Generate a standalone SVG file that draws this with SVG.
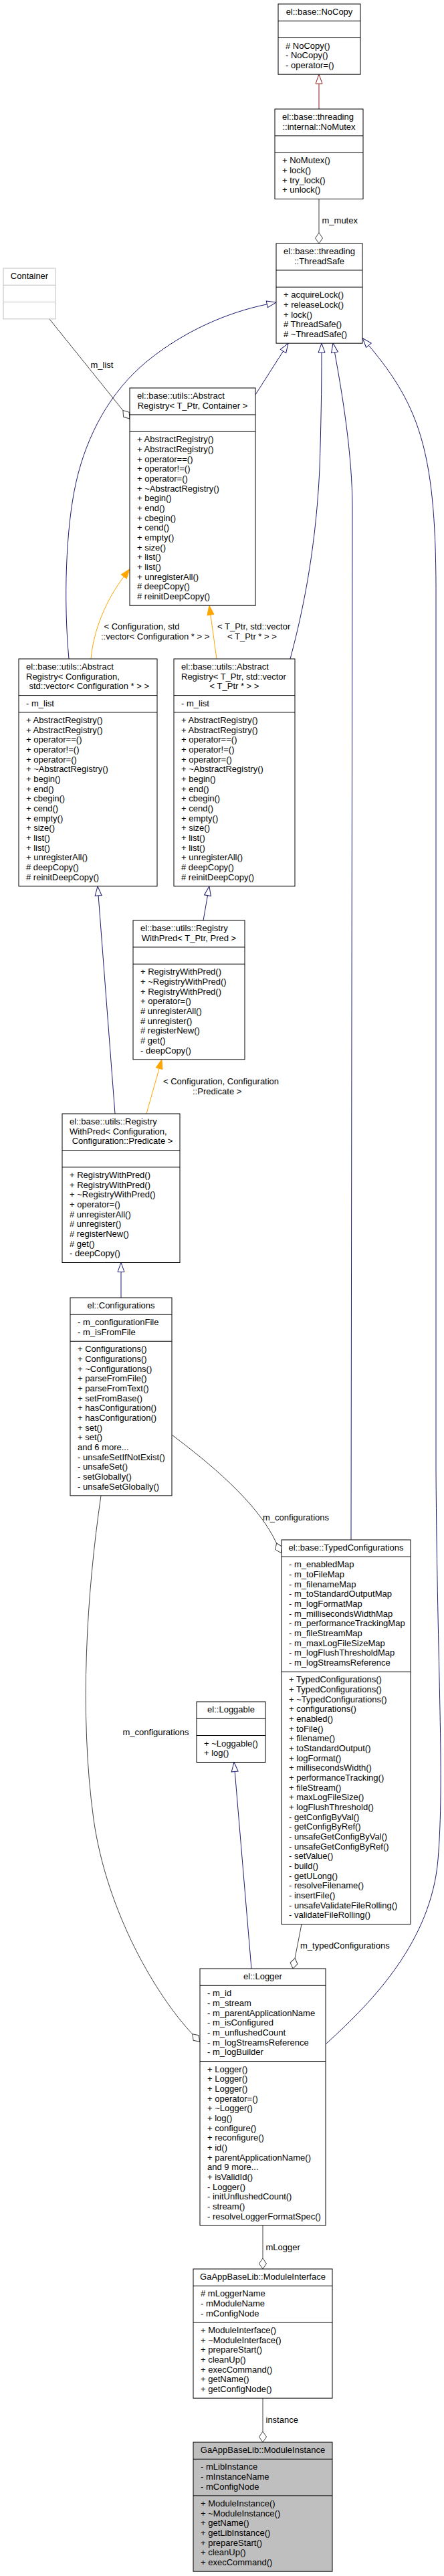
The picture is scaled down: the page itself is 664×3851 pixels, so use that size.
<svg xmlns="http://www.w3.org/2000/svg" width="664" height="3851" viewBox="0 0 664 3851">
<style>
.b{fill:#fff;stroke:#000;stroke-width:1}
.gr{fill:#bfbfbf;stroke:#000;stroke-width:1}
.gb{fill:#fff;stroke:#bfbfbf;stroke-width:1}
.d{stroke:#000;stroke-width:1;fill:none}
.dg{stroke:#bfbfbf;stroke-width:1;fill:none}
text{font-family:"Liberation Sans",Arial,Helvetica,sans-serif;font-size:13px;fill:#000}
.m{text-anchor:middle}
.e{fill:none;stroke-width:1}
.inh{stroke:#191970;marker-end:url(#ah)}
.tpl{stroke:#ffa500;marker-end:url(#ao)}
.use{stroke:#404040;marker-end:url(#dm)}
.prv{stroke:#8b1a1a;marker-end:url(#ar)}
</style>
<defs>
<marker id="ah" markerUnits="userSpaceOnUse" markerWidth="16" markerHeight="12" refX="0" refY="5" orient="auto" overflow="visible"><path d="M0,0L14,5L0,10Z" fill="#fff" stroke="#191970"/></marker>
<marker id="ar" markerUnits="userSpaceOnUse" markerWidth="16" markerHeight="12" refX="0" refY="5" orient="auto" overflow="visible"><path d="M0,0L14,5L0,10Z" fill="#fff" stroke="#8b1a1a"/></marker>
<marker id="ao" markerUnits="userSpaceOnUse" markerWidth="16" markerHeight="12" refX="0" refY="5" orient="auto" overflow="visible"><path d="M0,0L14,5L0,10Z" fill="#ffa500" stroke="#ffa500"/></marker>
<marker id="dm" markerUnits="userSpaceOnUse" markerWidth="18" markerHeight="12" refX="0" refY="5.5" orient="auto" overflow="visible"><path d="M0,5.5L8,0L16,5.5L8,11Z" fill="#fff" stroke="#404040"/></marker>
</defs>
<rect x="0" y="0" width="664" height="3851" fill="#fff"/>

<g id="connectors">
<path class="e prv" d="M477,163L477,125.15"/>
<path class="e use" d="M477,297.49L477,348"/>
<path class="e use" d="M74,477L183.9,613.6"/>
<path class="e inh" d="M103,985C95,900 98,790 114,720C130,650 165,585 220,540C275,495 340,467 399.3,454.9"/>
<path class="e inh" d="M382,590L423.5,525"/>
<path class="e inh" d="M434,985C450,925 472,830 478,700C480,640 481,580 481,527.2"/>
<path class="e inh" d="M525,2302L527,760C527,680 512,590 500.5,526.8"/>
<path class="e inh" d="M488,3055C560,2990 645,2900 655,2780C665,2660 654,2500 652,2200L652,900C653,680 630,610 551.4,516.3"/>
<path class="e tpl" d="M136,985C140,940 160,895 185.3,862"/>
<path class="e tpl" d="M324,985L314.9,919.1"/>
<path class="e inh" d="M172,1665L147.1,1338.9"/>
<path class="e inh" d="M304,1376L310.5,1338.7"/>
<path class="e tpl" d="M219,1665L238.1,1597.3"/>
<path class="e inh" d="M181,1940L181,1901.5"/>
<path class="e use" d="M257,2145C310,2185 385,2245 413.5,2307"/>
<path class="e use" d="M151,2235.9C130,2380 118,2560 140,2720C160,2860 235,2985 287.7,3040.7"/>
<path class="e use" d="M451,2876.6L441.1,2927.3"/>
<path class="e inh" d="M376,2943L351.2,2648.4"/>
<path class="e use" d="M393,3326.9L393,3376"/>
<path class="e use" d="M393,3585.2L393,3635"/>
<text x="481.5" y="334">m_mutex</text>
<text x="135.5" y="550">m_list</text>
<text x="155.5" y="941">&lt; Configuration, std</text>
<text x="151" y="956">::vector&lt; Configuration * &gt; &gt;</text>
<text x="325" y="941">&lt; T_Ptr, std::vector</text>
<text x="340" y="956">&lt; T_Ptr * &gt; &gt;</text>
<text x="244" y="1621">&lt; Configuration, Configuration</text>
<text x="288" y="1636">::Predicate &gt;</text>
<text x="393" y="2272.5">m_configurations</text>
<text x="183.5" y="2593.5">m_configurations</text>
<text x="449" y="2912.5">m_typedConfigurations</text>
<text x="397.5" y="3363.5">mLogger</text>
<text x="397.5" y="3621.5">instance</text>
</g>

<g id="nocopy">
<rect class="b" x="416" y="6" width="123" height="105.15"/>
<path class="d" d="M416,31.27H539M416,56.54H539"/>
<text class="m" x="477.5" y="22">el::base::NoCopy</text>
<text x="427" y="72.54"><tspan x="427">#  NoCopy()</tspan><tspan x="427" dy="14.67">- NoCopy()</tspan><tspan x="427" dy="14.67">- operator=()</tspan></text>
</g>

<g id="nomutex">
<rect class="b" x="411" y="163" width="132" height="134.49"/>
<path class="d" d="M411,202.94H543M411,228.21H543"/>
<text x="422" y="179">el::base::threading</text>
<text class="m" x="477" y="193.67">::internal::NoMutex</text>
<text x="422" y="244.21"><tspan x="422">+ NoMutex()</tspan><tspan x="422" dy="14.67">+ lock()</tspan><tspan x="422" dy="14.67">+ try_lock()</tspan><tspan x="422" dy="14.67">+ unlock()</tspan></text>
</g>

<g id="threadsafe">
<rect class="b" x="413" y="364" width="129" height="149.16"/>
<path class="d" d="M413,403.94H542M413,429.21H542"/>
<text x="424" y="380">el::base::threading</text>
<text class="m" x="477.5" y="394.67">::ThreadSafe</text>
<text x="424" y="445.21"><tspan x="424">+ acquireLock()</tspan><tspan x="424" dy="14.67">+ releaseLock()</tspan><tspan x="424" dy="14.67">+ lock()</tspan><tspan x="424" dy="14.67"># ThreadSafe()</tspan><tspan x="424" dy="14.67"># ~ThreadSafe()</tspan></text>
</g>

<g id="container">
<rect class="gb" x="5" y="401" width="78" height="75.81"/>
<path class="dg" d="M5,426.27H83M5,451.54H83"/>
<text class="m" x="44" y="417">Container</text>
</g>

<g id="abstractregistry_container">
<rect class="b" x="194" y="580" width="188" height="325.21"/>
<path class="d" d="M194,619.94H382M194,645.21H382"/>
<text x="205" y="596">el::base::utils::Abstract</text>
<text class="m" x="288" y="610.67">Registry&lt; T_Ptr, Container &gt;</text>
<text x="205" y="661.21"><tspan x="205">+ AbstractRegistry()</tspan><tspan x="205" dy="14.67">+ AbstractRegistry()</tspan><tspan x="205" dy="14.67">+ operator==()</tspan><tspan x="205" dy="14.67">+ operator!=()</tspan><tspan x="205" dy="14.67">+ operator=()</tspan><tspan x="205" dy="14.67">+ ~AbstractRegistry()</tspan><tspan x="205" dy="14.67">+ begin()</tspan><tspan x="205" dy="14.67">+ end()</tspan><tspan x="205" dy="14.67">+ cbegin()</tspan><tspan x="205" dy="14.67">+ cend()</tspan><tspan x="205" dy="14.67">+ empty()</tspan><tspan x="205" dy="14.67">+ size()</tspan><tspan x="205" dy="14.67">+ list()</tspan><tspan x="205" dy="14.67">+ list()</tspan><tspan x="205" dy="14.67">+ unregisterAll()</tspan><tspan x="205" dy="14.67"># deepCopy()</tspan><tspan x="205" dy="14.67"># reinitDeepCopy()</tspan></text>
</g>

<g id="abstractregistry_configuration">
<rect class="b" x="28" y="985" width="207" height="339.88"/>
<path class="d" d="M28,1039.61H235M28,1064.88H235"/>
<text x="39" y="1001">el::base::utils::Abstract</text>
<text x="39" y="1015.67">Registry&lt; Configuration,</text>
<text class="m" x="133.3" y="1030.34">std::vector&lt; Configuration * &gt; &gt;</text>
<text x="39" y="1055.61">- m_list</text>
<text x="39" y="1080.88"><tspan x="39">+ AbstractRegistry()</tspan><tspan x="39" dy="14.67">+ AbstractRegistry()</tspan><tspan x="39" dy="14.67">+ operator==()</tspan><tspan x="39" dy="14.67">+ operator!=()</tspan><tspan x="39" dy="14.67">+ operator=()</tspan><tspan x="39" dy="14.67">+ ~AbstractRegistry()</tspan><tspan x="39" dy="14.67">+ begin()</tspan><tspan x="39" dy="14.67">+ end()</tspan><tspan x="39" dy="14.67">+ cbegin()</tspan><tspan x="39" dy="14.67">+ cend()</tspan><tspan x="39" dy="14.67">+ empty()</tspan><tspan x="39" dy="14.67">+ size()</tspan><tspan x="39" dy="14.67">+ list()</tspan><tspan x="39" dy="14.67">+ list()</tspan><tspan x="39" dy="14.67">+ unregisterAll()</tspan><tspan x="39" dy="14.67"># deepCopy()</tspan><tspan x="39" dy="14.67"># reinitDeepCopy()</tspan></text>
</g>

<g id="abstractregistry_vector">
<rect class="b" x="260" y="985" width="181" height="339.88"/>
<path class="d" d="M260,1039.61H441M260,1064.88H441"/>
<text x="271" y="1001">el::base::utils::Abstract</text>
<text x="271" y="1015.67">Registry&lt; T_Ptr, std::vector</text>
<text class="m" x="350.5" y="1030.34">&lt; T_Ptr * &gt; &gt;</text>
<text x="271" y="1055.61">- m_list</text>
<text x="271" y="1080.88"><tspan x="271">+ AbstractRegistry()</tspan><tspan x="271" dy="14.67">+ AbstractRegistry()</tspan><tspan x="271" dy="14.67">+ operator==()</tspan><tspan x="271" dy="14.67">+ operator!=()</tspan><tspan x="271" dy="14.67">+ operator=()</tspan><tspan x="271" dy="14.67">+ ~AbstractRegistry()</tspan><tspan x="271" dy="14.67">+ begin()</tspan><tspan x="271" dy="14.67">+ end()</tspan><tspan x="271" dy="14.67">+ cbegin()</tspan><tspan x="271" dy="14.67">+ cend()</tspan><tspan x="271" dy="14.67">+ empty()</tspan><tspan x="271" dy="14.67">+ size()</tspan><tspan x="271" dy="14.67">+ list()</tspan><tspan x="271" dy="14.67">+ list()</tspan><tspan x="271" dy="14.67">+ unregisterAll()</tspan><tspan x="271" dy="14.67"># deepCopy()</tspan><tspan x="271" dy="14.67"># reinitDeepCopy()</tspan></text>
</g>

<g id="registrywithpred_tptr">
<rect class="b" x="199" y="1376" width="167" height="207.84"/>
<path class="d" d="M199,1415.94H366M199,1441.21H366"/>
<text x="210" y="1392">el::base::utils::Registry</text>
<text class="m" x="282.5" y="1406.67">WithPred&lt; T_Ptr, Pred &gt;</text>
<text x="210" y="1457.21"><tspan x="210">+ RegistryWithPred()</tspan><tspan x="210" dy="14.67">+ ~RegistryWithPred()</tspan><tspan x="210" dy="14.67">+ RegistryWithPred()</tspan><tspan x="210" dy="14.67">+ operator=()</tspan><tspan x="210" dy="14.67"># unregisterAll()</tspan><tspan x="210" dy="14.67"># unregister()</tspan><tspan x="210" dy="14.67"># registerNew()</tspan><tspan x="210" dy="14.67"># get()</tspan><tspan x="210" dy="14.67">- deepCopy()</tspan></text>
</g>

<g id="registrywithpred_configuration">
<rect class="b" x="93" y="1665" width="176" height="222.51"/>
<path class="d" d="M93,1719.61H269M93,1744.88H269"/>
<text x="104" y="1681">el::base::utils::Registry</text>
<text x="104" y="1695.67">WithPred&lt; Configuration,</text>
<text class="m" x="183" y="1710.34">Configuration::Predicate &gt;</text>
<text x="104" y="1760.88"><tspan x="104">+ RegistryWithPred()</tspan><tspan x="104" dy="14.67">+ RegistryWithPred()</tspan><tspan x="104" dy="14.67">+ ~RegistryWithPred()</tspan><tspan x="104" dy="14.67">+ operator=()</tspan><tspan x="104" dy="14.67"># unregisterAll()</tspan><tspan x="104" dy="14.67"># unregister()</tspan><tspan x="104" dy="14.67"># registerNew()</tspan><tspan x="104" dy="14.67"># get()</tspan><tspan x="104" dy="14.67">- deepCopy()</tspan></text>
</g>

<g id="configurations">
<rect class="b" x="105" y="1940" width="152" height="295.86"/>
<path class="d" d="M105,1965.27H257M105,2005.21H257"/>
<text class="m" x="181" y="1956">el::Configurations</text>
<text x="116" y="1981.27"><tspan x="116">- m_configurationFile</tspan><tspan x="116" dy="14.67">- m_isFromFile</tspan></text>
<text x="116" y="2021.21"><tspan x="116">+ Configurations()</tspan><tspan x="116" dy="14.67">+ Configurations()</tspan><tspan x="116" dy="14.67">+ ~Configurations()</tspan><tspan x="116" dy="14.67">+ parseFromFile()</tspan><tspan x="116" dy="14.67">+ parseFromText()</tspan><tspan x="116" dy="14.67">+ setFromBase()</tspan><tspan x="116" dy="14.67">+ hasConfiguration()</tspan><tspan x="116" dy="14.67">+ hasConfiguration()</tspan><tspan x="116" dy="14.67">+ set()</tspan><tspan x="116" dy="14.67">+ set()</tspan><tspan x="116" dy="14.67">and 6 more...</tspan><tspan x="116" dy="14.67">- unsafeSetIfNotExist()</tspan><tspan x="116" dy="14.67">- unsafeSet()</tspan><tspan x="116" dy="14.67">- setGlobally()</tspan><tspan x="116" dy="14.67">- unsafeSetGlobally()</tspan></text>
</g>

<g id="typedconfigurations">
<rect class="b" x="421" y="2302" width="193" height="574.59"/>
<path class="d" d="M421,2327.27H614M421,2499.24H614"/>
<text class="m" x="517.5" y="2318">el::base::TypedConfigurations</text>
<text x="432" y="2343.27"><tspan x="432">- m_enabledMap</tspan><tspan x="432" dy="14.67">- m_toFileMap</tspan><tspan x="432" dy="14.67">- m_filenameMap</tspan><tspan x="432" dy="14.67">- m_toStandardOutputMap</tspan><tspan x="432" dy="14.67">- m_logFormatMap</tspan><tspan x="432" dy="14.67">- m_millisecondsWidthMap</tspan><tspan x="432" dy="14.67">- m_performanceTrackingMap</tspan><tspan x="432" dy="14.67">- m_fileStreamMap</tspan><tspan x="432" dy="14.67">- m_maxLogFileSizeMap</tspan><tspan x="432" dy="14.67">- m_logFlushThresholdMap</tspan><tspan x="432" dy="14.67">- m_logStreamsReference</tspan></text>
<text x="432" y="2515.24"><tspan x="432">+ TypedConfigurations()</tspan><tspan x="432" dy="14.67">+ TypedConfigurations()</tspan><tspan x="432" dy="14.67">+ ~TypedConfigurations()</tspan><tspan x="432" dy="14.67">+ configurations()</tspan><tspan x="432" dy="14.67">+ enabled()</tspan><tspan x="432" dy="14.67">+ toFile()</tspan><tspan x="432" dy="14.67">+ filename()</tspan><tspan x="432" dy="14.67">+ toStandardOutput()</tspan><tspan x="432" dy="14.67">+ logFormat()</tspan><tspan x="432" dy="14.67">+ millisecondsWidth()</tspan><tspan x="432" dy="14.67">+ performanceTracking()</tspan><tspan x="432" dy="14.67">+ fileStream()</tspan><tspan x="432" dy="14.67">+ maxLogFileSize()</tspan><tspan x="432" dy="14.67">+ logFlushThreshold()</tspan><tspan x="432" dy="14.67">- getConfigByVal()</tspan><tspan x="432" dy="14.67">- getConfigByRef()</tspan><tspan x="432" dy="14.67">- unsafeGetConfigByVal()</tspan><tspan x="432" dy="14.67">- unsafeGetConfigByRef()</tspan><tspan x="432" dy="14.67">- setValue()</tspan><tspan x="432" dy="14.67">- build()</tspan><tspan x="432" dy="14.67">- getULong()</tspan><tspan x="432" dy="14.67">- resolveFilename()</tspan><tspan x="432" dy="14.67">- insertFile()</tspan><tspan x="432" dy="14.67">- unsafeValidateFileRolling()</tspan><tspan x="432" dy="14.67">- validateFileRolling()</tspan></text>
</g>

<g id="loggable">
<rect class="b" x="294" y="2544" width="103" height="90.48"/>
<path class="d" d="M294,2569.27H397M294,2594.54H397"/>
<text class="m" x="345.5" y="2560">el::Loggable</text>
<text x="305" y="2610.54"><tspan x="305">+ ~Loggable()</tspan><tspan x="305" dy="14.67">+ log()</tspan></text>
</g>

<g id="logger">
<rect class="b" x="299" y="2943" width="188" height="383.88"/>
<path class="d" d="M299,2968.27H487M299,3081.56H487"/>
<text class="m" x="393" y="2959">el::Logger</text>
<text x="310" y="2984.27"><tspan x="310">- m_id</tspan><tspan x="310" dy="14.67">- m_stream</tspan><tspan x="310" dy="14.67">- m_parentApplicationName</tspan><tspan x="310" dy="14.67">- m_isConfigured</tspan><tspan x="310" dy="14.67">- m_unflushedCount</tspan><tspan x="310" dy="14.67">- m_logStreamsReference</tspan><tspan x="310" dy="14.67">- m_logBuilder</tspan></text>
<text x="310" y="3097.56"><tspan x="310">+ Logger()</tspan><tspan x="310" dy="14.67">+ Logger()</tspan><tspan x="310" dy="14.67">+ Logger()</tspan><tspan x="310" dy="14.67">+ operator=()</tspan><tspan x="310" dy="14.67">+ ~Logger()</tspan><tspan x="310" dy="14.67">+ log()</tspan><tspan x="310" dy="14.67">+ configure()</tspan><tspan x="310" dy="14.67">+ reconfigure()</tspan><tspan x="310" dy="14.67">+ id()</tspan><tspan x="310" dy="14.67">+ parentApplicationName()</tspan><tspan x="310" dy="14.67">and 9 more...</tspan><tspan x="310" dy="14.67">+ isValidId()</tspan><tspan x="310" dy="14.67">- Logger()</tspan><tspan x="310" dy="14.67">- initUnflushedCount()</tspan><tspan x="310" dy="14.67">- stream()</tspan><tspan x="310" dy="14.67">- resolveLoggerFormatSpec()</tspan></text>
</g>

<g id="moduleinterface">
<rect class="b" x="289" y="3392" width="208" height="193.17"/>
<path class="d" d="M289,3417.27H497M289,3471.88H497"/>
<text class="m" x="393" y="3408">GaAppBaseLib::ModuleInterface</text>
<text x="300" y="3433.27"><tspan x="300"># mLoggerName</tspan><tspan x="300" dy="14.67">- mModuleName</tspan><tspan x="300" dy="14.67">- mConfigNode</tspan></text>
<text x="300" y="3487.88"><tspan x="300">+ ModuleInterface()</tspan><tspan x="300" dy="14.67">+ ~ModuleInterface()</tspan><tspan x="300" dy="14.67">+ prepareStart()</tspan><tspan x="300" dy="14.67">+ cleanUp()</tspan><tspan x="300" dy="14.67">+ execCommand()</tspan><tspan x="300" dy="14.67">+ getName()</tspan><tspan x="300" dy="14.67">+ getConfigNode()</tspan></text>
</g>

<g id="moduleinstance">
<rect class="gr" x="289" y="3651" width="208" height="193.17"/>
<path class="d" d="M289,3676.27H497M289,3730.88H497"/>
<text class="m" x="393" y="3667">GaAppBaseLib::ModuleInstance</text>
<text x="300" y="3692.27"><tspan x="300">- mLibInstance</tspan><tspan x="300" dy="14.67">- mInstanceName</tspan><tspan x="300" dy="14.67">- mConfigNode</tspan></text>
<text x="300" y="3746.88"><tspan x="300">+ ModuleInstance()</tspan><tspan x="300" dy="14.67">+ ~ModuleInstance()</tspan><tspan x="300" dy="14.67">+ getName()</tspan><tspan x="300" dy="14.67">+ getLibInstance()</tspan><tspan x="300" dy="14.67">+ prepareStart()</tspan><tspan x="300" dy="14.67">+ cleanUp()</tspan><tspan x="300" dy="14.67">+ execCommand()</tspan></text>
</g>
</svg>
